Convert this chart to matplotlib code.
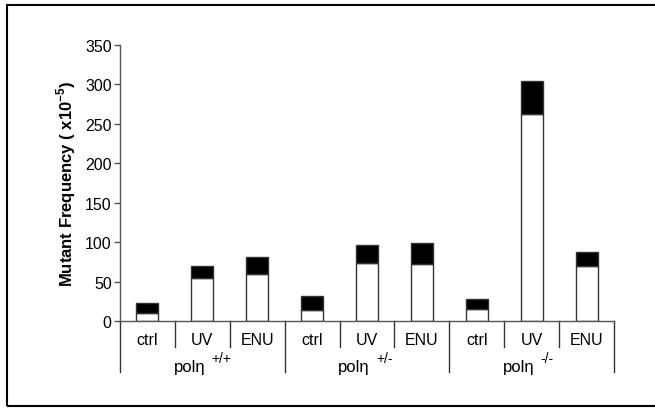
import matplotlib
matplotlib.use("Agg")

import matplotlib.pyplot as plt
import matplotlib.transforms as mtransforms
from matplotlib.patches import Rectangle
import numpy as np

plt.rcParams["font.family"] = ["Liberation Sans", "DejaVu Sans"]
plt.rcParams["mathtext.fontset"] = "custom"
plt.rcParams["mathtext.rm"] = "Liberation Sans"
plt.rcParams["mathtext.bf"] = "Liberation Sans:bold"

treatments = ["ctrl", "UV", "ENU"]
genotypes = ["+/+", "+/-", "-/-"]
# white (lower) part and black (upper) part of each stacked bar
white_part = [10.5, 54.4, 59.9, 14.7, 73.8, 72.5, 16.0, 262.4, 70.4]
black_part = [12.3, 15.6, 21.9, 17.7, 23.2, 26.2, 11.8, 41.4, 17.3]
y_ticks = [0, 50, 100, 150, 200, 250, 300, 350]

fig = plt.figure(figsize=(6.55, 4.1), dpi=100)
ax = fig.add_axes([0.1832, 0.2139, 0.7542, 0.6746])

n = len(white_part)
x = np.arange(n)
ax.bar(x, white_part, width=0.4, color="white", edgecolor="#333333", linewidth=1.0)
ax.bar(x, black_part, width=0.4, bottom=white_part, color="black",
       edgecolor="#333333", linewidth=1.0)

ax.set_xlim(-0.5, n - 0.5)
ax.set_ylim(0, 350)
ax.set_yticks(y_ticks)
ax.tick_params(axis="y", direction="out", length=4, width=1, color="#555555",
               labelsize=11.5, pad=2)
ax.set_xticks([])
for s in ["top", "right"]:
    ax.spines[s].set_visible(False)
for s in ["left", "bottom"]:
    ax.spines[s].set_color("#555555")
    ax.spines[s].set_linewidth(1.0)

ax.set_ylabel(r"Mutant Frequency ( x10$^{\mathbf{-5}}$)", fontsize=12,
              fontweight="bold", labelpad=5)

trans = mtransforms.blended_transform_factory(ax.transData, ax.transAxes)

# separators under the axis
for i in range(n + 1):
    xb = i - 0.5
    y_end = -0.182 if i % 3 == 0 else -0.093
    ax.plot([xb, xb], [0, y_end], transform=trans, color="#333333",
            linewidth=1.0, clip_on=False)

for i in range(n):
    ax.text(i, -0.064, treatments[i % 3], transform=trans, ha="center",
            va="center", fontsize=11.5)

for g, gt in enumerate(genotypes):
    xc = g * 3 + 1
    ax.annotate("pol\u03b7", xy=(xc, -0.162), xycoords=trans,
                xytext=(3, 0), textcoords="offset pixels",
                ha="right", va="center", fontsize=12)
    ax.annotate(gt, xy=(xc, -0.133), xycoords=trans,
                xytext=(9, 0), textcoords="offset pixels",
                ha="left", va="center", fontsize=10)

# outer frame
fig.patches.append(Rectangle((7 / 655, 1 - 407 / 410), 1.0, (407 - 6) / 410,
                             transform=fig.transFigure, fill=False,
                             edgecolor="black", linewidth=1.5))

plt.savefig("out.png", dpi=100)
plt.close()
